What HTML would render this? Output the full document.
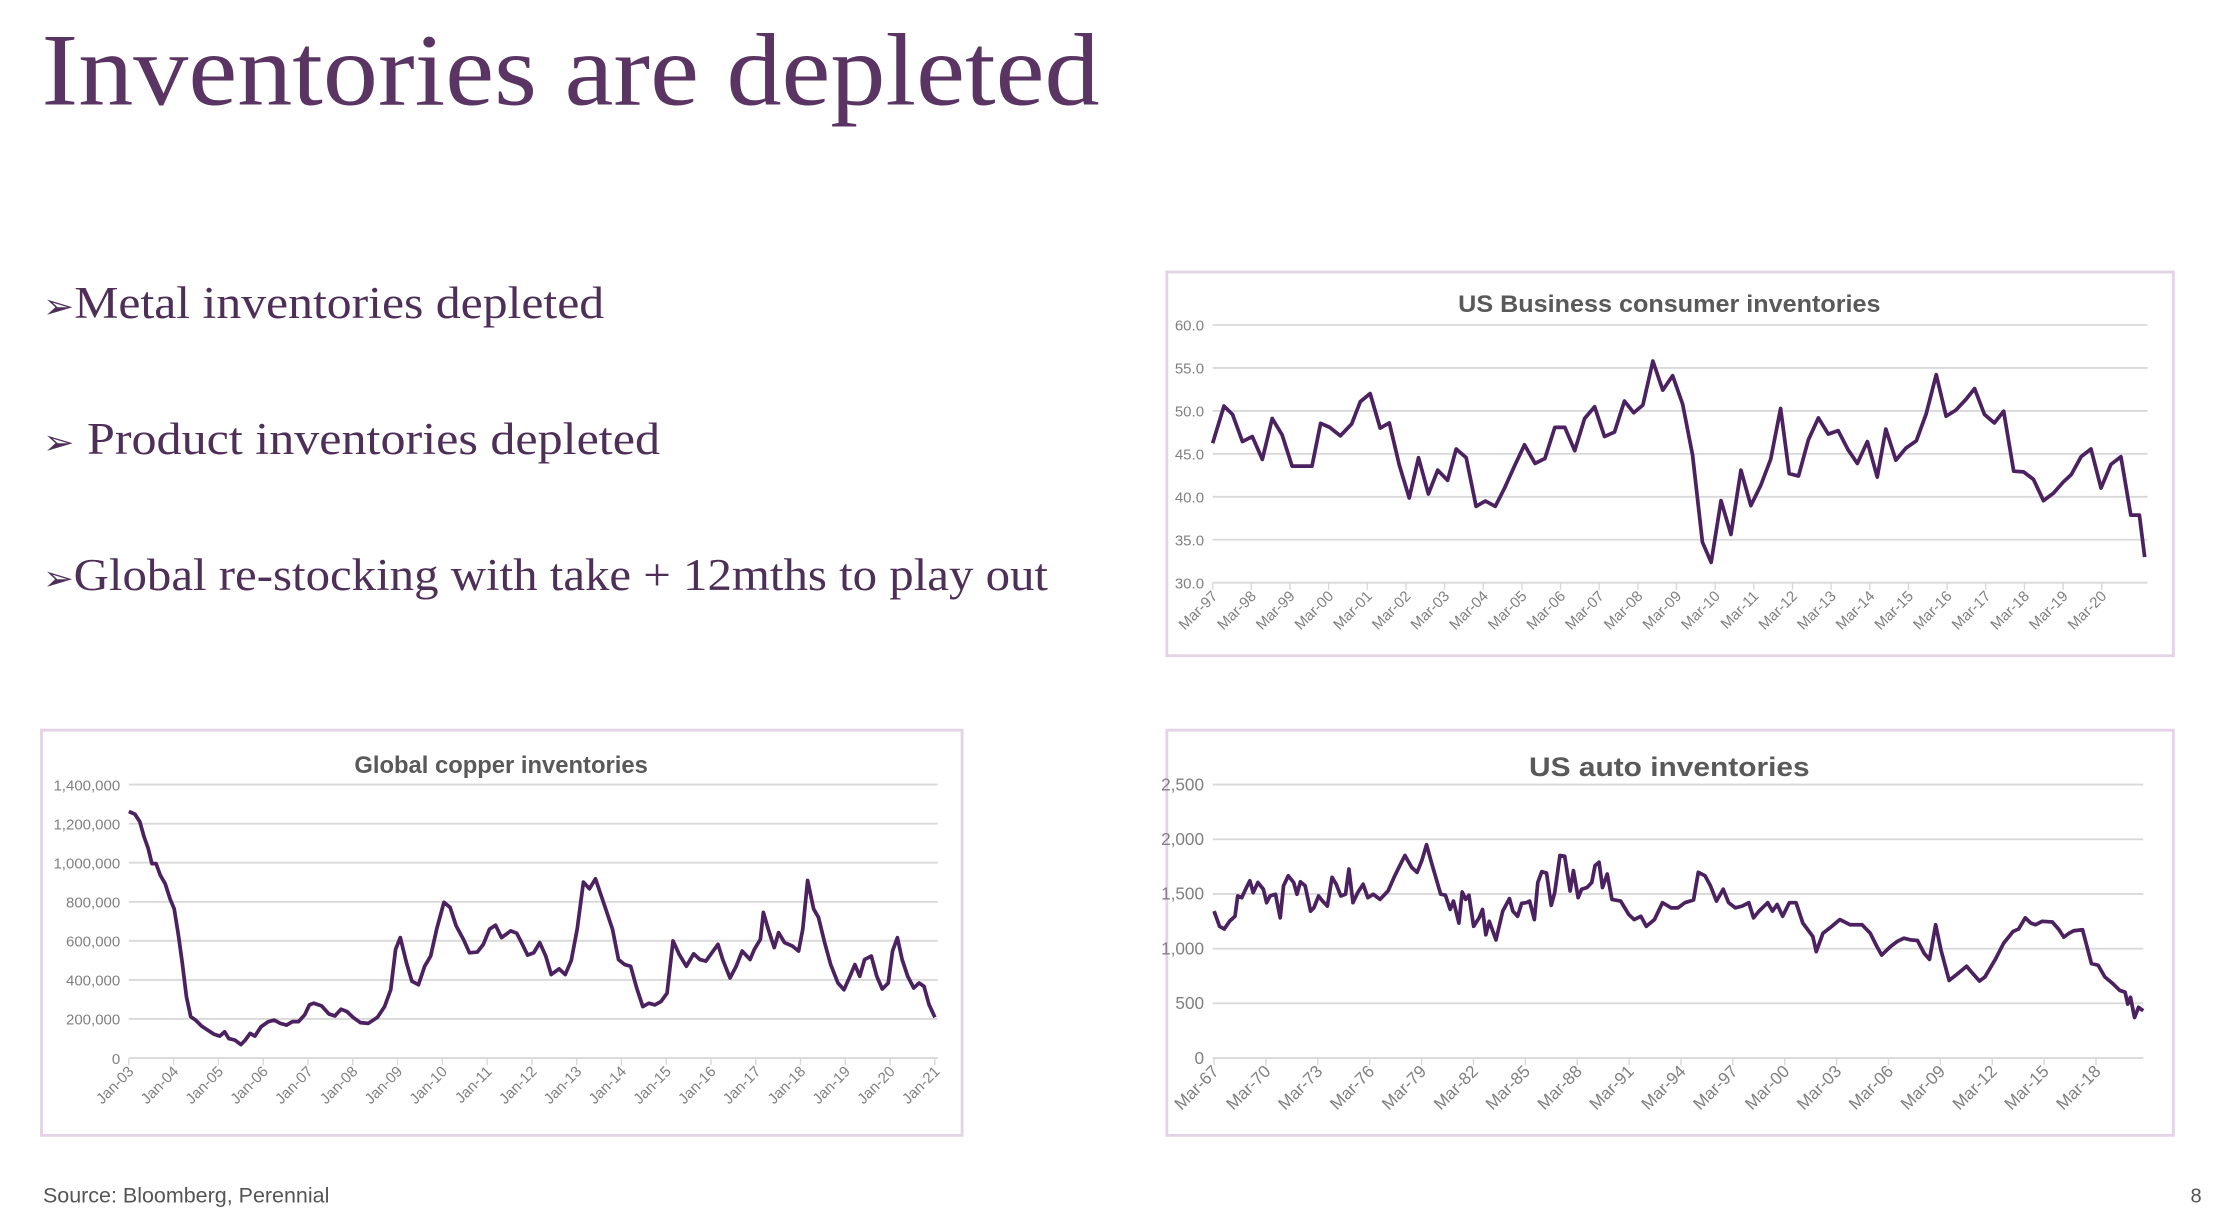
<!DOCTYPE html>
<html><head><meta charset="utf-8"><style>
html,body{margin:0;padding:0;background:#fff;width:2222px;height:1210px;overflow:hidden}
svg{display:block}
</style></head><body>
<svg id="s" width="2222" height="1210" viewBox="0 0 1552 845.15" xmlns="http://www.w3.org/2000/svg">
<rect width="1552" height="846" fill="#fff"/>
<text x="29" y="73" font-family="Liberation Serif, serif" font-size="72" fill="#5a3462" textLength="739" lengthAdjust="spacingAndGlyphs">Inventories are depleted</text>
<g font-family="Liberation Serif, serif" font-size="32" fill="#4e2f58">
<text x="30" y="222" textLength="392" lengthAdjust="spacingAndGlyphs"><tspan font-family="DejaVu Sans, sans-serif" font-size="24">➢</tspan>Metal inventories depleted</text>
<text x="30" y="317" textLength="431" lengthAdjust="spacingAndGlyphs"><tspan font-family="DejaVu Sans, sans-serif" font-size="24">➢</tspan> Product inventories depleted</text>
<text x="30" y="412" textLength="702" lengthAdjust="spacingAndGlyphs"><tspan font-family="DejaVu Sans, sans-serif" font-size="24">➢</tspan>Global re-stocking with take + 12mths to play out</text>
</g>
<g fill="#fff" stroke="#e4d3e6" stroke-width="2">
<rect x="815" y="190" width="703" height="268"/>
<rect x="29" y="510" width="643" height="283"/>
<rect x="815" y="510" width="703" height="283"/>
</g>
<g font-family="Liberation Sans, sans-serif" font-weight="bold" font-size="17" fill="#595959" text-anchor="middle">
<text x="1166" y="218" textLength="295" lengthAdjust="spacingAndGlyphs">US Business consumer inventories</text>
<text x="350" y="540" textLength="205" lengthAdjust="spacingAndGlyphs">Global copper inventories</text>
<text x="1166" y="542" font-size="19" textLength="196" lengthAdjust="spacingAndGlyphs">US auto inventories</text>
</g>
<g id="dyn"></g>
<text x="30" y="840" font-family="Liberation Sans, sans-serif" font-size="15" fill="#555">Source: Bloomberg, Perennial</text>
<text x="1530" y="840" font-family="Liberation Sans, sans-serif" font-size="14" fill="#555">8</text>
</svg>
<script>
var NS="http://www.w3.org/2000/svg",G=document.getElementById("dyn");
function el(t,a,txt){var e=document.createElementNS(NS,t);for(var k in a)e.setAttribute(k,a[k]);if(txt!=null)e.textContent=txt;G.appendChild(e);return e;}
function chart(o){
 for(var i=0;i<o.yl.length;i++){var y=o.y0+(o.y1-o.y0)*i/(o.yl.length-1);
  el("line",{x1:o.x0,x2:o.x1,y1:y,y2:y,stroke:"#d9d9d9","stroke-width":1.3});
  el("text",{x:o.x0-6,y:y+4,"text-anchor":"end","font-family":"Liberation Sans, sans-serif","font-size":o.fs||11,fill:"#808080"},o.yl[i]);}
 for(var j=0;j<o.xl.length;j++){var x=o.tx0+o.tdx*j;
  el("line",{x1:x,x2:x,y1:o.y1,y2:o.y1+5,stroke:"#d9d9d9","stroke-width":1});
  el("text",{x:0,y:0,transform:"translate("+(x+4)+","+(o.y1+10)+") rotate(-45)","text-anchor":"end","font-family":"Liberation Sans, sans-serif","font-size":o.fs||11,fill:"#808080"},o.xl[j]);}
 var p=o.pts.map(function(q){return o.mx(q[0]).toFixed(1)+","+o.my(q[1]).toFixed(1)}).join(" ");
 el("polyline",{points:p,fill:"none",stroke:"#4b2160","stroke-width":2.6,"stroke-linejoin":"round"});
}
function yrs(pre,a,b,st){var r=[];for(var y=a;y<=b;y+=st){var v=y%100;r.push(pre+(v<10?"0":"")+v);}return r;}
chart({x0:847,x1:1500,y0:227,y1:407,yl:["60.0","55.0","50.0","45.0","40.0","35.0","30.0"],
 xl:yrs("Mar-",1997,2020,1),tx0:847,tdx:(1468-847)/23,fs:10.5,
 mx:function(z){return 847+(z-75)*(651/1408)},my:function(z){return 227+(z-185)*180/763},
 pts:[[75,535],[92,425],[105,450],[120,530],[135,515],[150,583],[165,462],[180,510],[195,603],[225,603],[238,476],[252,488],[268,513],[285,478],[298,412],[313,388],[328,490],[342,475],[357,600],[372,697],[386,578],[401,685],[415,615],[430,645],[443,552],[458,578],[473,722],[487,706],[502,722],[516,668],[531,603],[546,540],[562,595],[577,580],[592,488],[607,488],[622,557],[637,462],[652,427],[667,515],[682,502],[697,410],[711,445],[725,422],[740,292],[755,378],[770,335],[785,420],[800,570],[815,828],[828,888],[843,705],[858,805],[873,615],[888,720],[903,660],[918,582],[933,432],[946,625],[960,632],[975,525],[990,460],[1005,508],[1020,498],[1035,555],[1049,595],[1064,530],[1079,635],[1092,493],[1107,585],[1122,550],[1138,528],[1153,448],[1168,332],[1183,455],[1198,437],[1213,405],[1226,373],[1241,450],[1256,475],[1270,440],[1285,618],[1300,620],[1315,642],[1330,705],[1345,683],[1360,650],[1372,628],[1387,575],[1402,552],[1417,668],[1432,598],[1447,575],[1462,748],[1475,748],[1483,872]]});
chart({x0:90,x1:655,y0:548,y1:739,yl:["1,400,000","1,200,000","1,000,000","800,000","600,000","400,000","200,000","0"],
 xl:yrs("Jan-",2003,2021,1),tx0:90,tdx:(653-90)/18,fs:10.5,
 mx:function(z){return 90+(z-160)*(563/1330)},my:function(z){return 739-(983-z)*191/813},
 pts:[[160,250],[170,258],[178,280],[185,325],[192,360],[198,405],[205,405],[212,440],[220,465],[228,510],[235,540],[242,620],[248,700],[255,800],[262,860],[270,870],[280,888],[290,900],[300,912],[310,918],[318,905],[325,925],[335,930],[345,943],[352,930],[360,910],[368,918],[378,890],[390,875],[400,870],[410,880],[420,885],[430,875],[440,875],[450,855],[458,825],[465,820],[478,828],[490,852],[500,858],[510,838],[520,845],[530,862],[542,878],[555,880],[570,862],[582,830],[592,780],[600,660],[608,625],[618,700],[627,755],[638,765],[648,710],[658,680],[668,600],[680,520],[690,535],[700,590],[712,630],[722,670],[735,668],[745,645],[755,600],[765,588],[775,625],[790,605],[800,612],[808,640],[818,677],[828,670],[838,640],[848,680],[857,735],[870,718],[880,735],[890,693],[900,598],[910,460],[920,480],[930,450],[945,530],[958,600],[968,690],[978,705],[988,710],[998,775],[1008,830],[1018,820],[1028,825],[1038,815],[1048,790],[1058,635],[1068,675],[1080,710],[1092,673],[1102,690],[1112,695],[1122,670],[1132,645],[1140,690],[1152,745],[1162,710],[1172,665],[1185,690],[1192,660],[1202,630],[1207,550],[1215,600],[1225,655],[1232,610],[1242,640],[1255,650],[1265,665],[1272,600],[1280,455],[1290,540],[1298,565],[1308,640],[1318,705],[1330,760],[1340,780],[1350,740],[1358,705],[1366,740],[1374,690],[1385,680],[1394,740],[1403,778],[1413,760],[1420,665],[1428,625],[1436,690],[1445,740],[1455,775],[1464,760],[1472,770],[1480,823],[1490,862]]});
chart({x0:847,x1:1497,y0:548,y1:739,yl:["2,500","2,000","1,500","1,000","500","0"],
 xl:yrs("Mar-",1967,2018,3),tx0:848,tdx:(1464-848)/17,fs:12,
 mx:function(z){return 848+(z-97)*0.471},my:function(z){return 739-(980-z)*191/810},
 pts:[[97,545],[105,590],[112,598],[120,575],[128,560],[132,500],[138,505],[145,475],[150,455],[155,490],[162,460],[170,480],[175,520],[180,500],[188,495],[195,565],[200,470],[207,440],[215,460],[220,495],[225,458],[232,470],[240,545],[245,535],[252,500],[258,515],[265,530],[272,445],[278,465],[285,500],[292,495],[297,420],[303,520],[310,490],[318,465],[325,505],[333,495],[343,510],[355,485],[365,440],[375,400],[380,380],[390,415],[398,430],[405,395],[412,348],[420,405],[428,460],[433,495],[440,498],[447,540],[452,515],[460,580],[465,488],[470,510],[475,498],[482,590],[490,565],[495,540],[500,615],[505,575],[515,630],[525,545],[535,508],[540,545],[547,560],[553,522],[560,520],[565,515],[572,570],[577,460],[583,428],[590,432],[597,528],[602,490],[610,380],[617,382],[625,485],[630,425],[637,505],[642,480],[650,475],[657,460],[662,410],[668,400],[673,475],[680,435],[687,510],[700,515],[712,555],[720,570],[730,560],[738,590],[750,570],[762,520],[775,535],[785,535],[795,520],[808,512],[815,430],[825,440],[833,470],[842,515],[852,480],[860,520],[870,535],[880,530],[890,520],[897,565],[905,545],[918,520],[925,545],[932,525],[940,560],[950,520],[960,520],[970,580],[985,620],[990,665],[1000,610],[1010,595],[1025,570],[1040,585],[1058,585],[1070,610],[1080,650],[1087,675],[1100,650],[1110,635],[1120,625],[1130,630],[1140,632],[1150,670],[1158,688],[1167,585],[1175,660],[1187,750],[1200,730],[1213,708],[1222,730],[1232,752],[1240,740],[1255,690],[1268,640],[1282,605],[1290,598],[1300,565],[1308,580],[1315,585],[1325,575],[1340,577],[1350,600],[1357,622],[1365,610],[1372,603],[1385,600],[1398,700],[1408,705],[1418,740],[1430,760],[1440,780],[1448,785],[1452,820],[1456,800],[1462,860],[1468,830],[1475,840]]});
</script>
</body></html>
